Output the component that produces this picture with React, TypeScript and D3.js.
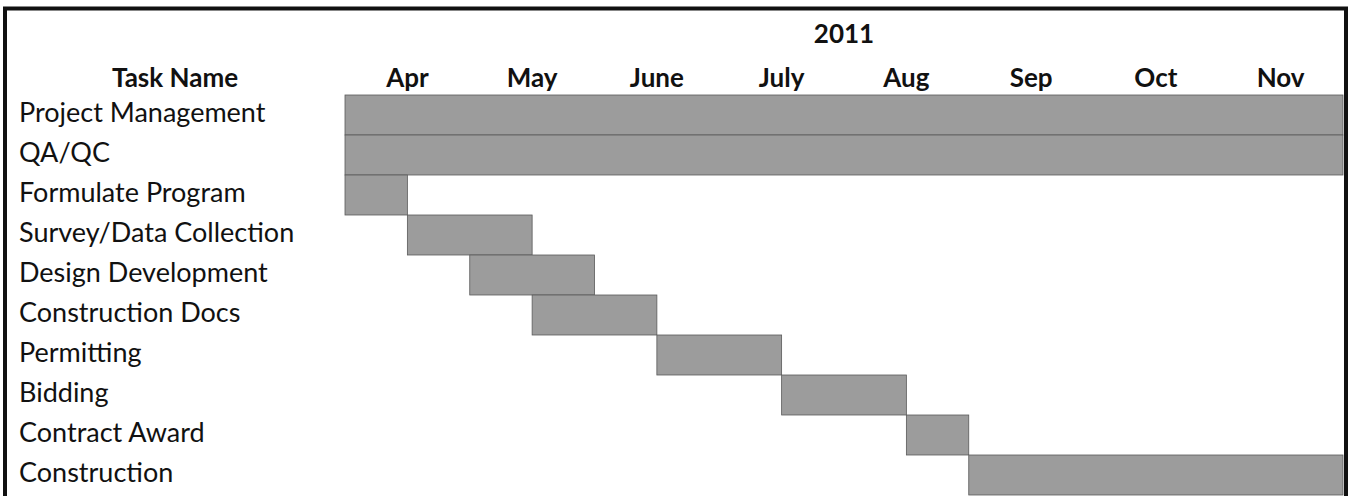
import * as d3 from "d3";
import { useEffect, useRef } from "react";

const tasks = [
  "Project Management",
  "QA/QC",
  "Formulate Program",
  "Survey/Data Collection",
  "Design Development",
  "Construction Docs",
  "Permitting",
  "Bidding",
  "Contract Award",
  "Construction",
];
// start / end in months from the beginning of April 2011
const starts = [0, 0, 0, 0.5, 1, 1.5, 2.5, 3.5, 4.5, 5];
const ends = [8, 8, 0.5, 1.5, 2, 2.5, 3.5, 4.5, 5, 8];
const months = ["Apr", "May", "June", "July", "Aug", "Sep", "Oct", "Nov"];
const year = "2011";
const headerLabel = "Task Name";

const App = () => {
  const width = 1349;
  const height = 496;
  const svgRef = useRef<SVGSVGElement | null>(null);

  useEffect(() => {
    if (!svgRef.current) return;
    const svg = d3.select(svgRef.current);
    svg.selectAll("*").remove();

    const font = "Lato, 'Open Sans', sans-serif";
    const x = d3.scaleLinear([0, months.length], [345, 1343]);
    const y = d3.scaleBand(tasks, [95, 495]);

    const rows = tasks.map((name, i) => ({ name, start: starts[i], end: ends[i] }));

    // frame (top, left and right edges only)
    svg
      .append("path")
      .attr("d", "M5,497 V8.5 H1346 V497")
      .attr("fill", "none")
      .attr("stroke", "#111")
      .attr("stroke-width", 4);

    // bars
    svg
      .append("g")
      .selectAll("rect")
      .data(rows)
      .join("rect")
      .attr("x", (d) => x(d.start))
      .attr("y", (d) => y(d.name)!)
      .attr("width", (d) => x(d.end) - x(d.start))
      .attr("height", y.bandwidth())
      .attr("fill", "#9c9c9c")
      .attr("stroke", "#5a5a5a")
      .attr("stroke-width", 0.8);

    // task labels
    svg
      .append("g")
      .selectAll("text")
      .data(rows)
      .join("text")
      .attr("x", 19)
      .attr("y", (d) => y(d.name)! + y.bandwidth() / 2 + 7)
      .attr("font-family", font)
      .attr("font-size", 27)
      .attr("fill", "#111")
      .text((d) => d.name);

    // header
    svg
      .append("text")
      .attr("x", 175)
      .attr("y", 87)
      .attr("text-anchor", "middle")
      .attr("font-family", font)
      .attr("font-weight", "bold")
      .attr("font-size", 26)
      .attr("fill", "#111")
      .text(headerLabel);

    svg
      .append("text")
      .attr("x", x(months.length / 2))
      .attr("y", 43)
      .attr("text-anchor", "middle")
      .attr("font-family", font)
      .attr("font-weight", "bold")
      .attr("font-size", 26)
      .attr("fill", "#111")
      .text(year);

    svg
      .append("g")
      .selectAll("text")
      .data(months)
      .join("text")
      .attr("x", (d, i) => x(i + 0.5))
      .attr("y", 87)
      .attr("text-anchor", "middle")
      .attr("font-family", font)
      .attr("font-weight", "bold")
      .attr("font-size", 26)
      .attr("fill", "#111")
      .text((d) => d);
  }, []);

  return (
    <svg
      width={width}
      height={height}
      ref={svgRef}
      style={{ position: "absolute", left: 0, top: 0, background: "white" }}
    ></svg>
  );
};

export default App;
